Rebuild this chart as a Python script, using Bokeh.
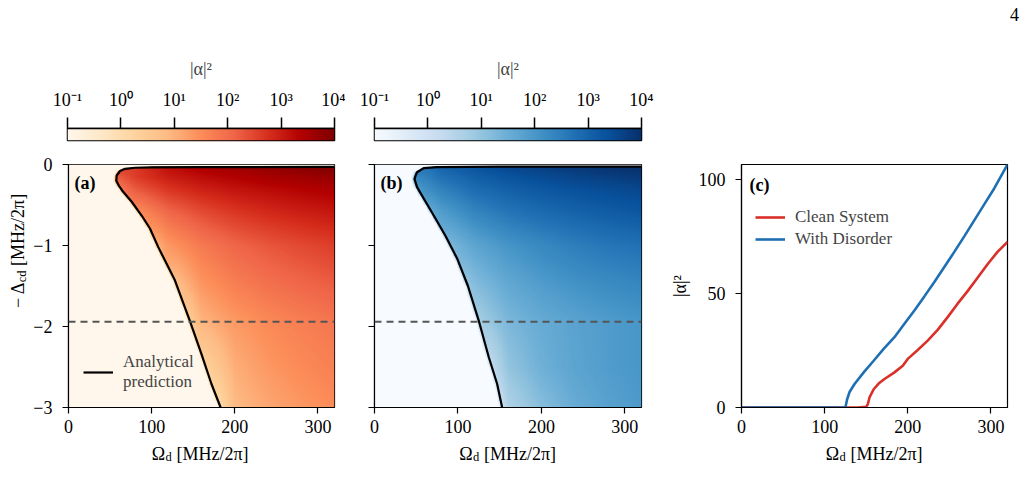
import numpy as np
from bokeh.plotting import figure
from bokeh.layouts import row, column
from bokeh.models import (LinearColorMapper, FixedTicker, Label, Legend, LegendItem,
                          Span, Range1d)
from bokeh.embed import file_html
from bokeh.resources import INLINE

SERIF = "Liberation Serif"
FS = "18px"
LEG_FS = "17px"
SUB = "12.5px"

# ---------------- colour tables (ColorBrewer, light -> dark) ----------------
ORRD_STOPS = ["#fff7ec", "#fee8c8", "#fdd49e", "#fdbb84", "#fc8d59",
              "#ef6548", "#d7301f", "#b30000", "#7f0000"]
BLUES_STOPS = ["#f7fbff", "#deebf7", "#c6dbef", "#9ecae1", "#6baed6",
               "#4292c6", "#2171b5", "#08519c", "#08306b"]

# ---------------- colour scale: log10 |alpha|^2 ----------------
log_min, log_max = -1, 4
cbar_ticks = [-1, 0, 1, 2, 3, 4]
cbar_labels = ["10⁻¹", "10⁰", "10¹", "10²", "10³", "10⁴"]

# ---------------- steady-state maps (log10 |alpha|^2) ----------------
omega_cols = [40, 80, 120, 160, 200, 240, 280, 320]            # Omega_d [MHz/2pi]
detuning_rows = [-3.0, -2.5, -1.94, -1.5, -1.0, -0.6, -0.3, -0.15, -0.04]

# clean system: value right at threshold, then on the column grid (None = below threshold)
edge_clean = [0.1, 0.3, 0.5, 0.75, 1.05, 1.5, 1.9, 2.2, 2.6]
grid_clean = [
    [None, None, None, None, 0.85, 1.15, 1.35, 1.52],
    [None, None, None, None, 1.05, 1.35, 1.55, 1.70],
    [None, None, None, 0.95, 1.33, 1.56, 1.73, 1.86],
    [None, None, None, 1.35, 1.70, 1.92, 2.08, 2.20],
    [None, None, 1.35, 1.80, 2.10, 2.30, 2.45, 2.58],
    [None, None, 2.05, 2.40, 2.65, 2.82, 2.95, 3.05],
    [None, 2.25, 2.70, 2.95, 3.12, 3.25, 3.36, 3.45],
    [None, 2.60, 3.00, 3.22, 3.38, 3.52, 3.62, 3.72],
    [None, None, 3.15, 3.45, 3.62, 3.75, 3.88, 4.00],
]

# with disorder
edge_dis = [0.15, 0.3, 0.75, 1.0, 1.3, 1.6, 2.0, 2.3, 2.7]
grid_dis = [
    [None, None, None, 0.60, 1.15, 1.55, 1.78, 1.95],
    [None, None, None, 1.00, 1.45, 1.72, 1.90, 2.03],
    [None, None, None, 1.29, 1.57, 1.76, 1.91, 2.03],
    [None, None, 1.15, 1.60, 1.88, 2.08, 2.22, 2.33],
    [None, None, 1.70, 2.05, 2.30, 2.50, 2.65, 2.75],
    [None, 1.85, 2.35, 2.65, 2.85, 3.00, 3.13, 3.23],
    [None, 2.45, 2.85, 3.08, 3.25, 3.38, 3.48, 3.57],
    [None, 2.75, 3.10, 3.32, 3.48, 3.62, 3.72, 3.80],
    [None, 3.00, 3.30, 3.55, 3.70, 3.82, 3.92, 4.00],
]

# ---------------- analytical threshold lines ----------------
thr_clean_omega = [183, 172, 160, 146, 128, 108, 98, 88, 76, 66, 60.5, 57.5,
                   58, 62, 68, 80, 100, 160, 320]
thr_clean_delta = [-3.0, -2.71, -2.34, -1.93, -1.43, -1.02, -0.79, -0.63, -0.46,
                   -0.34, -0.26, -0.20, -0.136, -0.08, -0.053, -0.04, -0.035, -0.033, -0.03]
thr_dis_omega = [153, 147, 137, 125, 112, 99, 85, 71, 59, 51, 48, 49.5, 51, 59,
                 75, 150, 320]
thr_dis_delta = [-3.0, -2.71, -2.38, -1.93, -1.5, -1.16, -0.88, -0.63, -0.42,
                 -0.28, -0.18, -0.13, -0.095, -0.045, -0.032, -0.027, -0.025]

# ---------------- cut at fixed detuning ----------------
slice_detuning = -1.94
clean_omega = [0, 140, 150, 152, 154, 159, 165, 172, 184, 194, 200, 212, 224,
               236, 248, 260, 272, 284, 296, 308, 320]
clean_n = [0, 0, 0.3, 1.5, 4.4, 8.0, 10.5, 12.5, 15.4, 18.3, 21.3, 25.2, 29.3,
           34.0, 39.6, 45.5, 51.0, 56.9, 62.8, 68.2, 72.6]
dis_omega = [0, 125, 127, 130, 136, 147, 159, 171, 184, 196, 208, 220, 232,
             244, 256, 268, 280, 292, 304, 320]
dis_n = [0, 0, 3.5, 6.8, 10.3, 15.4, 20.5, 25.7, 30.8, 36.7, 42.5, 48.7, 55.0,
         61.6, 68.2, 75.0, 82.0, 89.0, 96.0, 106.5]

page_number = "4"

CLEAN_COLOR = "#d9302a"
DIS_COLOR = "#1f6fb3"

HEAD_H = 30                                     # strip holding the page number
CBAR_H = 150 - HEAD_H                           # row holding the colour bars
FRAME_TOP = 14
FRAME_H = 243
TICK_BORDER = 33
ROW2_H = FRAME_TOP + FRAME_H + TICK_BORDER      # row holding the three panels
STRIP_H = 487 - 150 - ROW2_H                    # row holding the x titles


def ramp(stops, n=256):
    rgb = np.array([[int(s[i:i + 2], 16) for i in (1, 3, 5)] for s in stops], float)
    pos = np.linspace(0, 1, len(stops))
    out = []
    for t in np.linspace(0, 1, n):
        c = [int(round(np.interp(t, pos, rgb[:, k]))) for k in range(3)]
        out.append("#%02x%02x%02x" % tuple(c))
    return out


def threshold_map(edge, grid, curve_om, curve_de):
    om_px = np.arange(0.5, 320, 1.0)
    de_px = np.arange(-3 + 0.005, 0, 0.01)
    rows_b = np.interp(detuning_rows, curve_de, curve_om)
    prof = []
    for b, e, vals in zip(rows_b, edge, grid):
        xs = [b] + [c for c, v in zip(omega_cols, vals) if v is not None]
        ys = [e] + [v for v in vals if v is not None]
        prof.append(np.interp(om_px, xs, ys))
    prof = np.array(prof)
    field = np.array([np.interp(de_px, detuning_rows, prof[:, j])
                      for j in range(om_px.size)]).T
    bound = np.interp(de_px, curve_de, curve_om)
    dist = om_px[None, :] - bound[:, None]
    fade = np.clip(-dist / 4.0, 0, 1)
    field = field + (log_min - field) * fade
    field[de_px > curve_de[-1], :] = log_min
    return field


def style_axes(f):
    for ax in (f.xaxis, f.yaxis):
        ax.major_tick_in = 0
        ax.major_tick_out = 6
        ax.minor_tick_in = 0
        ax.minor_tick_out = 0
        ax.major_tick_line_color = "black"
        ax.major_tick_line_width = 1.2
        ax.axis_line_color = "black"
        ax.axis_line_width = 1.2
        ax.major_label_text_font = SERIF
        ax.major_label_text_font_size = FS
        ax.major_label_text_color = "black"
        ax.axis_label_text_font = SERIF
        ax.axis_label_text_font_size = FS
        ax.axis_label_text_font_style = "normal"
        ax.axis_label_text_color = "black"
    f.xaxis.major_label_standoff = 6
    f.yaxis.major_label_standoff = 10
    f.grid.visible = False
    f.outline_line_color = "black"
    f.outline_line_width = 1.2
    f.outline_line_alpha = 1


def add_text(f, text, x, y, size=FS, style="normal", angle=0, align="left",
             baseline="middle"):
    f.add_layout(Label(x=x, y=y, x_units="screen", y_units="screen", text=text,
                       text_font=SERIF, text_font_size=size, text_font_style=style,
                       text_color="black", text_align=align, text_baseline=baseline,
                       angle=angle))


def text_strip(width, height):
    # blank canvas whose frame covers everything; holds composite axis titles
    f = figure(width=width, height=height, x_range=Range1d(0, 1), y_range=Range1d(0, 1),
               title=None, x_axis_location=None, y_axis_location=None,
               toolbar_location=None, output_backend="svg", min_border=0)
    f.outline_line_color = None
    f.grid.visible = False
    return f


def omega_label(f, center, base):
    # "Omega_d [MHz/2pi]" on a common baseline
    w_om, w_sub, gap, w_rest = 13.9, 6.3, 4.5, 72.9
    x0 = center - (w_om + w_sub + gap + w_rest) / 2
    add_text(f, "Ω", x0, base, baseline="alphabetic")
    add_text(f, "d", x0 + w_om, base - 3.5, size=SUB, baseline="alphabetic")
    add_text(f, "[MHz/2π]", x0 + w_om + w_sub + gap, base, baseline="alphabetic")


def heat_fig(width, left, right, stops, edge, grid, thr_om, thr_de, tag, ylabels):
    f = figure(width=width, height=ROW2_H, x_range=Range1d(0, 320), y_range=Range1d(-3, 0),
               toolbar_location=None, output_backend="svg",
               min_border_left=left, min_border_right=right,
               min_border_top=FRAME_TOP, min_border_bottom=TICK_BORDER)
    mapper = LinearColorMapper(palette=ramp(stops), low=log_min, high=log_max)
    f.image(image=[threshold_map(edge, grid, thr_om, thr_de)], x=0, y=-3, dw=320, dh=3,
            color_mapper=mapper)
    line = f.line(thr_om, thr_de, line_color="black", line_width=2.2)
    f.add_layout(Span(location=slice_detuning, dimension="width", line_color="#555555",
                      line_width=2, line_dash="7 5"))
    style_axes(f)
    f.xaxis.ticker = FixedTicker(ticks=[0, 100, 200, 300])
    f.yaxis.ticker = FixedTicker(ticks=[-3, -2, -1, 0])
    if ylabels:
        f.yaxis.major_label_overrides = {0: "0", -1: "−1", -2: "−2", -3: "−3"}
    else:
        f.yaxis.major_label_overrides = {0: "", -1: "", -2: "", -3: ""}
    add_text(f, tag, 6, 225, style="bold")
    return f, line, mapper


def colorbar_fig(mapper, width, left, right):
    f = figure(width=width, height=CBAR_H, x_range=Range1d(log_min, log_max),
               y_range=Range1d(0, 1), x_axis_location="above", y_axis_location=None,
               toolbar_location=None, output_backend="svg",
               min_border_left=left, min_border_right=right,
               min_border_top=128 - HEAD_H, min_border_bottom=10)
    f.image(image=[np.linspace(log_min, log_max, 512)[None, :]], x=log_min, y=0,
            dw=log_max - log_min, dh=1, color_mapper=mapper)
    ax = f.xaxis
    ax.ticker = FixedTicker(ticks=cbar_ticks)
    ax.major_label_overrides = dict(zip(cbar_ticks, cbar_labels))
    ax.major_tick_in = 0
    ax.major_tick_out = 11
    ax.minor_tick_in = 0
    ax.minor_tick_out = 0
    ax.major_tick_line_width = 1.5
    ax.major_tick_line_color = "black"
    ax.axis_line_color = "black"
    ax.axis_line_width = 1.5
    ax.major_label_standoff = 8
    ax.major_label_text_font = SERIF
    ax.major_label_text_font_size = FS
    ax.major_label_text_color = "black"
    ax.axis_label = "|α|²"
    ax.axis_label_standoff = 8
    ax.axis_label_text_font = SERIF
    ax.axis_label_text_font_size = FS
    ax.axis_label_text_font_style = "normal"
    f.grid.visible = False
    f.outline_line_color = "black"
    f.outline_line_width = 1.5
    return f


# ---------------- (a) clean system map ----------------
fa, line_a, map_a = heat_fig(315, 37, 11, ORRD_STOPS, edge_clean, grid_clean,
                             thr_clean_omega, thr_clean_delta, "(a)", True)
leg_a = Legend(items=[LegendItem(label="Analytical\nprediction", renderers=[line_a])],
               location=(15, 15), background_fill_alpha=0, border_line_alpha=0,
               padding=0, margin=0, glyph_width=30, label_standoff=10,
               label_text_font=SERIF, label_text_font_size=LEG_FS)
fa.add_layout(leg_a)

# rotated y title "- Delta_cd [MHz/2pi]" left of panel (a)
ylab = text_strip(30, ROW2_H)
yc, xc = ROW2_H - (283 - 150), 17
w1, w2, gap, w3 = 25.7, 11.8, 4.5, 72.9
y0 = yc - (w1 + w2 + gap + w3) / 2
add_text(ylab, "− Δ", xc, y0, angle=np.pi / 2)
add_text(ylab, "cd", xc + 4, y0 + w1, size=SUB, angle=np.pi / 2)
add_text(ylab, "[MHz/2π]", xc, y0 + w1 + w2 + gap, angle=np.pi / 2)

# ---------------- (b) disordered map ----------------
fb, line_b, map_b = heat_fig(315, 29, 19, BLUES_STOPS, edge_dis, grid_dis,
                             thr_dis_omega, thr_dis_delta, "(b)", False)

# ---------------- (c) cut along the dashed line ----------------
fc = figure(width=365, height=ROW2_H, x_range=Range1d(0, 320), y_range=Range1d(0, max(dis_n)),
            toolbar_location=None, output_backend="svg",
            min_border_left=81, min_border_right=18, min_border_top=FRAME_TOP,
            min_border_bottom=TICK_BORDER)
r_clean = fc.line(clean_omega, clean_n, line_color=CLEAN_COLOR, line_width=2.6)
r_dis = fc.line(dis_omega, dis_n, line_color=DIS_COLOR, line_width=2.6)
style_axes(fc)
fc.xaxis.ticker = FixedTicker(ticks=[0, 100, 200, 300])
fc.yaxis.ticker = FixedTicker(ticks=[0, 50, 100])
fc.yaxis.axis_label = "|α|²"
fc.yaxis.axis_label_standoff = 6
add_text(fc, "(c)", 8, 223, style="bold")
leg_c = Legend(items=[LegendItem(label="Clean System", renderers=[r_clean]),
                      LegendItem(label="With Disorder", renderers=[r_dis])],
               location=(14, 158), background_fill_alpha=0, border_line_alpha=0,
               padding=0, margin=0, spacing=2, glyph_width=30, label_standoff=10,
               label_text_font=SERIF, label_text_font_size=LEG_FS)
fc.add_layout(leg_c)

# ---------------- x titles under the panels ----------------
strip_top = 150 + ROW2_H
base_y = STRIP_H - (453 - strip_top)
xl_a = text_strip(345, STRIP_H)
omega_label(xl_a, 200, base_y)
xl_b = text_strip(315, STRIP_H)
omega_label(xl_b, 374 + 133.5 - 345, base_y)
xl_c = text_strip(365, STRIP_H)
omega_label(xl_c, 741 + 133 - 660, base_y)

# ---------------- page number, colour bars ----------------
head = text_strip(1025, HEAD_H)
add_text(head, page_number, 1014, HEAD_H - 13.5, align="center")

cb_a = colorbar_fig(map_a, 345, 67, 11)
cb_b = colorbar_fig(map_b, 315, 29, 19)
cb_pad = text_strip(365, CBAR_H)

layout = column(head,
                row(cb_a, cb_b, cb_pad),
                row(ylab, fa, fb, fc),
                row(xl_a, xl_b, xl_c))
open("out.html", "w").write(file_html(layout, INLINE))
